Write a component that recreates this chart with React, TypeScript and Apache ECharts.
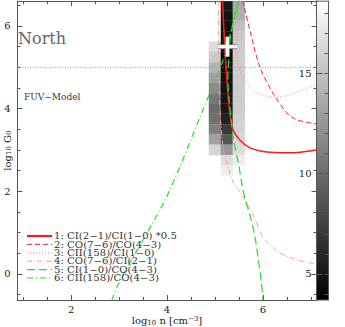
import React, { useEffect, useRef } from 'react';
import * as echarts from 'echarts';

const FONT = '"DejaVu Serif", "Liberation Serif", serif';

// axis ranges
const X_MIN = 0.88, X_MAX = 7.12;
const Y_MIN = -0.63, Y_MAX = 6.6;
const CB_MIN = 3.7, CB_MAX = 18.6;

// ticks & labels
const xMinorTicks = [1, 1.5, 2, 2.5, 3, 3.5, 4, 4.5, 5, 5.5, 6, 6.5, 7];
const xMajorTicks = [2, 4, 6];
const yMinorTicks = [-0.5, 0, 0.5, 1, 1.5, 2, 2.5, 3, 3.5, 4, 4.5, 5, 5.5, 6, 6.5];
const yMajorTicks = [0, 2, 4, 6];
const cbMinorTicks = [4, 5, 6, 7, 8, 9, 10, 11, 12, 13, 14, 15, 16, 17, 18];
const cbMajorTicks = [5, 10, 15];

// grey map cells (columns in log n, rows in log G0)
const CELL = 0.25;
const columnN = [5.0, 5.25, 5.5];
const leftG0 = [5.5, 5.25, 5.0, 4.75, 4.5, 4.25, 4.0, 3.75, 3.5, 3.25, 3.0];
const leftVal = [16.6, 15.6, 14.3, 13.05, 11.8, 10.65, 9.9, 10.25, 11.2, 13.05, 16.15];
const midG0 = [6.5, 6.25, 6.0, 5.75, 5.5, 5.25, 5.0, 4.75, 4.5, 4.25, 4.0, 3.75, 3.5, 3.25, 3.0, 2.75, 2.5];
const midVal = [5.1, 4.9, 4.75, 4.6, 4.4, 4.4, 4.5, 4.65, 4.75, 4.9, 5.1, 5.7, 7.1, 8.7, 12.6, 16.6, 17.6];
const rightG0 = [6.5, 6.25, 6.0, 5.75, 5.5, 5.25, 5.0, 4.75, 4.5, 4.25, 4.0, 3.75, 3.5, 3.25, 3.0, 2.75];
const rightVal = [13.6, 13.9, 14.8, 15.4, 15.6, 15.6, 15.6, 15.6, 15.6, 15.6, 15.7, 15.85, 16.0, 16.15, 16.6, 17.6];

// best fit cross
const bestN = 5.26, bestG0 = 5.5, errN = 0.2, errG0 = 0.24;

// FUV model level
const fuvLevel = 5;

// ratio curves [log n, log G0]
const line1 = [[5.16, 6.62], [5.2, 5.6], [5.25, 4.69], [5.3, 4.0], [5.375, 3.5], [5.52, 3.24], [5.73, 3.05], [6.08, 2.95], [6.56, 2.93], [7.12, 3.0]];
const line2 = [[5.58, 6.62], [5.73, 5.9], [5.94, 5.0], [6.21, 4.38], [6.5, 3.9], [6.71, 3.73], [7.12, 3.63]];
const line3 = [[5.44, 6.62], [5.44, 5.8], [5.45, 5.26], [5.58, 4.77], [5.79, 4.45], [6.0, 4.33], [6.21, 4.28], [6.56, 4.33], [6.98, 4.52], [7.12, 4.58]];
const line4 = [[5.07, 6.62], [5.08, 5.5], [5.09, 4.5], [5.12, 3.7], [5.18, 3.0], [5.28, 2.56], [5.38, 2.23], [5.52, 1.99], [5.66, 1.72], [5.8, 1.42], [6.0, 0.9], [6.2, 0.65], [6.35, 0.51], [6.71, 0.34], [7.12, 0.24]];
const line5 = [[5.49, 6.62], [5.42, 6.31], [5.35, 5.9], [5.31, 5.58], [5.28, 5.02], [5.27, 4.69], [5.3, 4.21], [5.38, 3.32], [5.49, 2.68], [5.56, 2.2], [5.625, 1.83], [5.73, 1.43], [5.83, 0.94], [5.9, 0.4], [5.97, -0.2], [6.0, -0.63]];
const line6 = [[2.85, -0.63], [3.02, -0.15], [3.44, 0.7], [3.96, 1.79], [4.27, 2.6], [4.5, 3.25], [4.69, 3.8], [4.94, 4.5], [5.12, 5.0], [5.25, 5.5], [5.38, 6.07], [5.52, 6.62]];

const seriesNames = [
  '1: CI(2\u22121)/CI(1\u22120) *0.5',
  '2: CO(7\u22126)/CO(4\u22123)',
  '3: CII(158)/CI(1\u22120)',
  '4: CO(7\u22126)/CI(2\u22121)',
  '5: CI(1\u22120)/CO(4\u22123)',
  '6: CII(158)/CO(4\u22123)',
];
const lines = [line1, line2, line3, line4, line5, line6];

const lineStyles = [
  { color: '#ff1a1a', width: 1.5, type: 'solid' as any },
  { color: '#ff2020', width: 1, type: [5, 3] },
  { color: '#ff8c8c', width: 1, type: [1, 2] },
  { color: '#ff9a9a', width: 1, type: [5, 2, 1, 2] },
  { color: '#22e022', width: 1.2, type: [8, 4] },
  { color: '#22e022', width: 1.2, type: [6, 3, 1, 3] },
];

const AX = '#555';
const TXT = '#222';

function buildOption() {
  const heatData: number[][] = [];
  leftG0.forEach((g, i) => heatData.push([columnN[0], g, leftVal[i]]));
  midG0.forEach((g, i) => heatData.push([columnN[1], g, midVal[i]]));
  rightG0.forEach((g, i) => heatData.push([columnN[2], g, rightVal[i]]));

  const mkX = (pos: string, ticks: number[], len: number, labels?: number[], name?: string) => ({
    type: 'value', gridIndex: 0, position: pos, min: X_MIN, max: X_MAX,
    axisLine: { show: true, onZero: false, lineStyle: { color: AX, width: 1 } },
    axisTick: { show: true, inside: true, length: len, customValues: ticks, lineStyle: { color: AX, width: 1 } },
    axisLabel: labels ? { show: true, customValues: labels, fontFamily: FONT, fontSize: 10, lineHeight: 9, color: TXT, margin: 5 } : { show: false },
    splitLine: { show: false },
    name: name || '',
    nameLocation: 'middle',
    nameGap: 15,
    nameMoveOverlap: false,
    nameTextStyle: {
      rich: {
        a: { fontFamily: FONT, fontSize: 10, color: TXT, lineHeight: 11 },
        s: { fontFamily: FONT, fontSize: 7, color: TXT, lineHeight: 6, verticalAlign: 'bottom' },
        p: { fontFamily: FONT, fontSize: 7, color: TXT, lineHeight: 6, verticalAlign: 'top' },
      },
    },
  });
  const mkY = (pos: string, ticks: number[], len: number, labels?: number[], name?: string) => ({
    type: 'value', gridIndex: 0, position: pos, min: Y_MIN, max: Y_MAX,
    axisLine: { show: true, onZero: false, lineStyle: { color: AX, width: 1 } },
    axisTick: { show: true, inside: true, length: len, customValues: ticks, lineStyle: { color: AX, width: 1 } },
    axisLabel: labels ? { show: true, customValues: labels, fontFamily: FONT, fontSize: 10, color: TXT, margin: 7 } : { show: false },
    splitLine: { show: false },
    name: name || '',
    nameLocation: 'middle',
    nameRotate: 90,
    nameGap: 5,
    nameMoveOverlap: false,
    nameTextStyle: {
      rich: {
        a: { fontFamily: FONT, fontSize: 10, color: TXT, lineHeight: 11 },
        s: { fontFamily: FONT, fontSize: 7, color: TXT, lineHeight: 6, verticalAlign: 'bottom' },
      },
    },
  });
  const mkCb = (pos: string, ticks: number[], len: number, labels?: number[], hidden?: boolean) => ({
    type: 'value', gridIndex: 1, position: pos, min: CB_MIN, max: CB_MAX,
    show: !hidden,
    axisLine: { show: !hidden, onZero: false, lineStyle: { color: AX, width: 1 } },
    axisTick: { show: !hidden, inside: true, length: len, customValues: ticks, lineStyle: { color: AX, width: 1 } },
    axisLabel: labels ? { show: true, customValues: labels, fontFamily: FONT, fontSize: 10, color: TXT, margin: 5 } : { show: false },
    splitLine: { show: false },
  });

  const legendGraphics: any[] = [];
  seriesNames.forEach((nm, i) => {
    const y = 236 + i * 8.4;
    const ls = lineStyles[i];
    legendGraphics.push({
      type: 'line', shape: { x1: 27, y1: y, x2: 52, y2: y },
      style: { stroke: ls.color, lineWidth: i === 0 ? 2.2 : ls.width, lineDash: Array.isArray(ls.type) ? ls.type : null },
      z: 10,
    });
    legendGraphics.push({
      type: 'text', x: 54, y: y, scaleX: 1.18,
      style: { text: nm, fontFamily: FONT, fontSize: 8.6, lineHeight: 8, fill: '#333', align: 'left', verticalAlign: 'middle' },
      z: 10,
    });
  });

  return {
    animation: false,
    backgroundColor: '#ffffff',
    grid: [
      { left: 17.5, top: 1.2, width: 299, height: 298.8, show: false, containLabel: false, outerBoundsMode: 'none' },
      {
        left: 316.5, top: 1.2, width: 12, height: 298.8, show: true, containLabel: false, outerBoundsMode: 'none',
        backgroundColor: new echarts.graphic.LinearGradient(0, 0, 0, 1, [
          { offset: 0, color: '#ffffff' },
          { offset: 1, color: '#000000' },
        ]),
        borderColor: AX, borderWidth: 1,
      },
    ],
    xAxis: [
      mkX('bottom', xMinorTicks, 3, xMajorTicks, '{a|log}{s|10}{a| n [cm}{p|\u22123}{a|]}'),
      mkX('top', xMinorTicks, 3),
      mkX('top', xMajorTicks, 5),
      mkX('bottom', xMajorTicks, 5),
      { type: 'value', gridIndex: 1, min: 0, max: 1, show: false },
    ],
    yAxis: [
      mkY('left', yMinorTicks, 3, yMajorTicks, '{a|log}{s|10}{a| G}{s|0}'),
      mkY('right', yMinorTicks, 3),
      mkY('right', yMajorTicks, 5),
      mkY('left', yMajorTicks, 5),
      mkCb('right', cbMinorTicks, 4),
      mkCb('left', cbMajorTicks, 0, undefined, true),
      mkCb('left', cbMajorTicks, 6, cbMajorTicks),
    ],
    visualMap: {
      type: 'continuous', show: false, seriesIndex: 0, dimension: 2,
      min: CB_MIN, max: CB_MAX,
      inRange: { color: ['#000000', '#ffffff'] },
    },
    graphic: [
      {
        type: 'text', x: 18, y: 38,
        style: { text: 'North', fontFamily: FONT, fontSize: 16, fill: '#666', align: 'left', verticalAlign: 'middle' },
        z: 10,
      },
      {
        type: 'text', x: 24, y: 97,
        style: { text: 'FUV\u2212Model', fontFamily: FONT, fontSize: 9, fill: '#333', align: 'left', verticalAlign: 'middle' },
        z: 10,
      },
      ...legendGraphics,
    ],
    series: [
      {
        type: 'custom', name: 'chi', xAxisIndex: 0, yAxisIndex: 0, clip: true, z: 1,
        data: heatData,
        renderItem: (params: any, api: any) => {
          const n = api.value(0), g = api.value(1);
          const p0 = api.coord([n - CELL / 2, g + CELL / 2]);
          const p1 = api.coord([n + CELL / 2, g - CELL / 2]);
          const c = api.visual('color');
          return {
            type: 'rect',
            shape: { x: p0[0], y: p0[1], width: p1[0] - p0[0], height: p1[1] - p0[1] },
            style: { fill: c, stroke: c, lineWidth: 0.3 },
          };
        },
      },
      {
        type: 'line', name: 'fuv', xAxisIndex: 0, yAxisIndex: 0, z: 2,
        data: [[X_MIN, fuvLevel], [X_MAX, fuvLevel]],
        symbol: 'none', lineStyle: { color: '#9a9a9a', width: 1, type: [1, 1.5] },
      },
      ...lines.map((d, i) => ({
        type: 'line', name: seriesNames[i], xAxisIndex: 0, yAxisIndex: 0, z: 3,
        data: d, symbol: 'none', smooth: 0.3,
        lineStyle: { color: lineStyles[i].color, width: lineStyles[i].width, type: lineStyles[i].type },
      })),
      {
        type: 'custom', name: 'best', xAxisIndex: 0, yAxisIndex: 0, z: 6,
        data: [[bestN, bestG0, errN, errG0]],
        renderItem: (params: any, api: any) => {
          const cx = api.value(0), cy = api.value(1), ex = api.value(2), ey = api.value(3);
          const l = api.coord([cx - ex, cy]);
          const r = api.coord([cx + ex, cy]);
          const t = api.coord([cx, cy + ey]);
          const b = api.coord([cx, cy - ey]);
          const seg = (a: number[], c: number[], stroke: string, w: number) => ({
            type: 'line', shape: { x1: a[0], y1: a[1], x2: c[0], y2: c[1] }, style: { stroke, lineWidth: w, lineCap: 'butt' },
          });
          return {
            type: 'group',
            children: [
              seg(l, r, '#8a8a8a', 5), seg(t, b, '#8a8a8a', 5),
              seg(l, r, '#ffffff', 3), seg(t, b, '#ffffff', 3),
            ],
          };
        },
      },
    ],
  };
}

export default function App() {
  const ref = useRef<HTMLDivElement>(null);
  useEffect(() => {
    const chart = echarts.init(ref.current as HTMLDivElement, null, { renderer: 'svg' });
    chart.setOption(buildOption() as any);
    return () => chart.dispose();
  }, []);
  return <div ref={ref} style={{ position: 'fixed', left: 0, top: 0, width: 345, height: 327 }} />;
}
